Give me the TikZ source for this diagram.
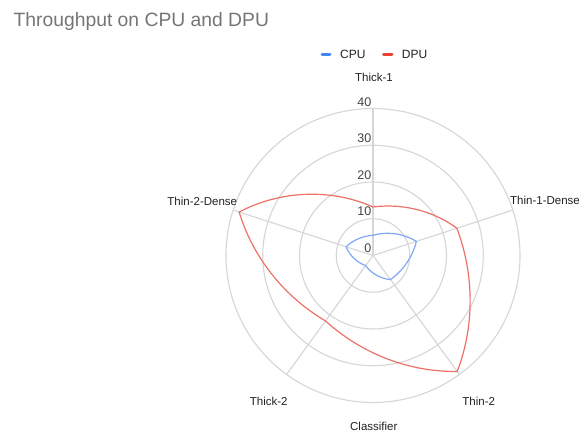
\documentclass[tikz,border=0pt]{standalone}
\usepackage{fontspec}
\setmainfont{Liberation Sans}
\definecolor{gridc}{HTML}{D6D6D6}
\definecolor{cpuline}{HTML}{7FA8F2}
\definecolor{dpuline}{HTML}{EC7268}
\definecolor{cpuleg}{HTML}{4285F4}
\definecolor{dpuleg}{HTML}{EA4335}
\definecolor{titlec}{HTML}{757575}
\definecolor{labc}{HTML}{222222}
\definecolor{tickc}{HTML}{444444}
% blended segment: half straight chord, half polar interpolation
\newcommand\sx[4]{373+1.8375*((1-\q)*(#2)*cos(#1)+\q*(#4)*cos(#3)+((#2)+((#4)-(#2))*\q)*cos((#1)+((#3)-(#1))*\q))}
\newcommand\sy[4]{255.5-1.8375*((1-\q)*(#2)*sin(#1)+\q*(#4)*sin(#3)+((#2)+((#4)-(#2))*\q)*sin((#1)+((#3)-(#1))*\q))}
\begin{document}
\begin{tikzpicture}[x=1pt,y=-1pt,
  gridline/.style={draw=gridc,line width=1.1pt},
  pseg/.style={variable=\q,domain=0:1,samples=30},
  dpu/.style={draw=dpuline,line width=1.2pt,line join=round},
  cpu/.style={draw=cpuline,line width=1.2pt,line join=round},
  catlab/.style={font=\fontsize{11.5}{13}\selectfont,text=labc,inner sep=0pt,text height=8.2pt,text depth=0pt},
  ticklab/.style={font=\fontsize{12.5}{14}\selectfont,text=tickc,inner sep=0pt,text height=9pt,text depth=0pt,anchor=east},
  legtext/.style={font=\fontsize{12}{14}\selectfont,text=labc,inner sep=0pt,text height=8.6pt,text depth=0pt,anchor=west},
  legmark/.style={line width=3pt,line cap=round}]
\useasboundingbox (0,0) rectangle (579,435);
\fill[white] (0,0) rectangle (579,435);

% title
\node[anchor=base west,inner sep=0pt,text=titlec,font=\fontsize{19.3}{22}\selectfont] (title) at (13.5,26.5) {Throughput on CPU and DPU};

% legend
\coordinate (lc1) at (322,54.3);
\coordinate (lc2) at (330,54.3);
\coordinate (ld1) at (383.5,54.3);
\coordinate (ld2) at (392,54.3);
\draw[legmark,cpuleg] (lc1) -- (lc2);
\draw[legmark,dpuleg] (ld1) -- (ld2);
\node[legtext] (lcpu) at (340,54.3) {CPU};
\node[legtext] (ldpu) at (401.7,54.3) {DPU};

% grid
\coordinate (c) at (373,255.5);
\foreach \r in {36.75,73.5,110.25,147} \draw[gridline] (c) circle[radius=\r pt];
\foreach \a/\n in {90/a,18/b,-54/cc,-126/d,162/e}{
  \coordinate (sp\n) at ({373+147*cos(\a)},{255.5-147*sin(\a)});
  \draw[gridline] (c) -- (sp\n);
}

% DPU
\draw[dpu] plot[pseg] ({\sx{90}{13.2}{18}{24}},{\sy{90}{13.2}{18}{24}})
 -- plot[pseg] ({\sx{18}{24}{-54}{39}},{\sy{18}{24}{-54}{39}})
 -- plot[pseg] ({\sx{-54}{39}{-126}{22}},{\sy{-54}{39}{-126}{22}})
 -- plot[pseg] ({\sx{-126}{22}{-198}{38.3}},{\sy{-126}{22}{-198}{38.3}})
 -- plot[pseg] ({\sx{-198}{38.3}{-270}{13.2}},{\sy{-198}{38.3}{-270}{13.2}}) -- cycle;

% CPU
\draw[cpu] plot[pseg] ({\sx{90}{5.5}{18}{12.4}},{\sy{90}{5.5}{18}{12.4}})
 -- plot[pseg] ({\sx{18}{12.4}{-54}{8.1}},{\sy{18}{12.4}{-54}{8.1}})
 -- plot[pseg] ({\sx{-54}{8.1}{-126}{3.4}},{\sy{-54}{8.1}{-126}{3.4}})
 -- plot[pseg] ({\sx{-126}{3.4}{-198}{7.7}},{\sy{-126}{3.4}{-198}{7.7}})
 -- plot[pseg] ({\sx{-198}{7.7}{-270}{5.5}},{\sy{-198}{7.7}{-270}{5.5}}) -- cycle;

% tick labels
\node[ticklab] (t0) at (371.5,247.7) {0};
\node[ticklab] (t10) at (371.5,211) {10};
\node[ticklab] (t20) at (371.5,175) {20};
\node[ticklab] (t30) at (371.5,138.3) {30};
\node[ticklab] (t40) at (371.5,101.7) {40};

% category labels
\node[catlab] (thick1) at (374,77.3) {Thick-1};
\node[catlab,anchor=west] (thin1d) at (510,200.7) {Thin-1-Dense};
\node[catlab] (thin2) at (478.7,401.7) {Thin-2};
\node[catlab] (classif) at (373.8,426.7) {Classifier};
\node[catlab] (thick2) at (268.7,401.7) {Thick-2};
\node[catlab,anchor=east] (thin2d) at (237.3,201.7) {Thin-2-Dense};
\end{tikzpicture}
\end{document}
